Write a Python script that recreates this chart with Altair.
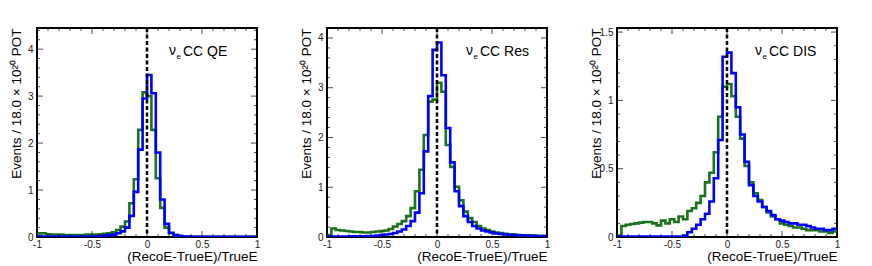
import altair as alt
import numpy as np
import pandas as pd

# ---------------- data ----------------
N_BINS = 50
X_LO, X_HI = -1.0, 1.0

qe_green = [0.08, 0.08, 0.06, 0.05, 0.05, 0.05, 0.04, 0.04, 0.04, 0.04,
            0.04, 0.05, 0.05, 0.05, 0.06, 0.07, 0.08, 0.10, 0.15, 0.22,
            0.33, 0.72, 1.23, 2.28, 3.08, 3.00, 2.28, 1.25, 0.62, 0.20,
            0.08, 0.04, 0.02, 0.01, 0.006, 0.005, 0.005, 0.004, 0.004, 0.004,
            0.003, 0.003, 0.003, 0.003, 0.003, 0.003, 0.003, 0.003, 0.003, 0.003]
qe_blue = [0.02, 0.01, 0.01, 0.01, 0.01, 0.01, 0.01, 0.01, 0.01, 0.01,
           0.01, 0.01, 0.012, 0.015, 0.02, 0.03, 0.04, 0.05, 0.08, 0.12,
           0.20, 0.45, 0.96, 1.86, 2.95, 3.45, 3.06, 1.80, 0.80, 0.28,
           0.09, 0.04, 0.02, 0.012, 0.008, 0.006, 0.006, 0.005, 0.005, 0.005,
           0.005, 0.005, 0.005, 0.005, 0.005, 0.005, 0.005, 0.005, 0.005, 0.005]

res_green = [0.04, 0.17, 0.14, 0.13, 0.12, 0.11, 0.10, 0.10, 0.09, 0.09,
             0.10, 0.11, 0.12, 0.13, 0.16, 0.21, 0.26, 0.32, 0.42, 0.58,
             0.92, 1.35, 2.05, 2.72, 2.76, 3.10, 2.92, 1.85, 1.41, 1.01,
             0.74, 0.51, 0.38, 0.30, 0.22, 0.17, 0.14, 0.11, 0.09, 0.08,
             0.065, 0.055, 0.05, 0.04, 0.035, 0.03, 0.03, 0.025, 0.02, 0.02]
res_blue = [0.01, 0.01, 0.01, 0.01, 0.01, 0.012, 0.012, 0.015, 0.015, 0.02,
            0.02, 0.03, 0.04, 0.05, 0.06, 0.08, 0.11, 0.15, 0.22, 0.32,
            0.49, 0.88, 1.72, 2.83, 3.76, 3.91, 3.25, 2.19, 1.50, 0.92,
            0.62, 0.42, 0.30, 0.22, 0.17, 0.13, 0.11, 0.09, 0.07, 0.06,
            0.05, 0.045, 0.04, 0.035, 0.03, 0.03, 0.025, 0.02, 0.02, 0.02]

dis_green = [0.01, 0.08, 0.09, 0.095, 0.10, 0.105, 0.11, 0.11, 0.10, 0.085,
             0.12, 0.10, 0.13, 0.11, 0.15, 0.13, 0.19, 0.21, 0.25, 0.30,
             0.40, 0.47, 0.62, 0.88, 1.10, 1.12, 1.03, 0.88, 0.72, 0.52,
             0.40, 0.32, 0.27, 0.22, 0.18, 0.15, 0.13, 0.10, 0.09, 0.08,
             0.07, 0.07, 0.06, 0.05, 0.05, 0.05, 0.04, 0.04, 0.03, 0.04]
dis_blue = [0.004, 0.004, 0.004, 0.004, 0.004, 0.004, 0.004, 0.004, 0.004, 0.004,
            0.004, 0.004, 0.004, 0.004, 0.004, 0.01, 0.035, 0.06, 0.09, 0.13,
            0.17, 0.26, 0.43, 0.71, 1.32, 1.35, 1.20, 0.95, 0.75, 0.55,
            0.38, 0.30, 0.26, 0.22, 0.19, 0.16, 0.13, 0.12, 0.11, 0.10,
            0.10, 0.09, 0.09, 0.08, 0.07, 0.06, 0.06, 0.05, 0.05, 0.06]

panel_labels = ["CC QE", "CC Res", "CC DIS"]
y_max = [4.45, 4.2, 1.53]
y_major = [[0, 1, 2, 3, 4], [0, 1, 2, 3, 4], [0, 0.5, 1, 1.5]]
y_minor_step = [0.2, 0.2, 0.1]
x_major = [-1, -0.5, 0, 0.5, 1]
x_minor_step = 0.1
vline_x = [0.0]

X_TITLE = "(RecoE-TrueE)/TrueE"
Y_TITLE = "Events / 18.0 \u00d7 10\u00b2\u2070 POT"

# ---------------- style ----------------
W, H = 220, 209
FONT = "Liberation Sans"
GREEN = "#1a731a"
BLUE = "#0000ff"
LW = 2.6
MAJ, MIN = 12, 6          # tick sizes (half is clipped -> inward ticks)
label_x = [132, 139, 138]

edges = np.linspace(X_LO, X_HI, N_BINS + 1)


def hist_df(vals):
    return pd.DataFrame({"x": edges, "val": list(vals) + [vals[-1]]})


def panel(i, green, blue):
    xs = alt.Scale(domain=[X_LO, X_HI], nice=False, zero=False)
    ys = alt.Scale(domain=[0, y_max[i]], nice=False, zero=False)

    xaxis = alt.Axis(values=x_major, labelExpr="toString(datum.value)",
                     title=X_TITLE, titleAnchor="end", titleY=23,
                     titleBaseline="alphabetic", titleFont=FONT,
                     titleFontSize=13.5, titleFontWeight="normal",
                     titleColor="black", labelFont=FONT, labelFontSize=10,
                     labelColor="#222", labelPadding=2, labelFlush=False,
                     labelOverlap=False, labelBound=False, ticks=False,
                     tickSize=0, domain=False, grid=False)
    yaxis = alt.Axis(values=y_major[i], labelExpr="toString(datum.value)",
                     title=Y_TITLE, titleAnchor="end", titleX=-16.5,
                     titleBaseline="alphabetic", titleFont=FONT,
                     titleFontSize=13.5, titleFontWeight="normal",
                     titleColor="black", labelFont=FONT, labelFontSize=10,
                     labelColor="#222", labelPadding=4, labelFlush=False,
                     labelOverlap=False, labelBound=False, ticks=False,
                     tickSize=0, domain=False, grid=False)

    X = lambda: alt.X("x:Q", scale=xs, axis=xaxis)
    Y = lambda: alt.Y("val:Q", scale=ys, axis=yaxis)

    g = alt.Chart(hist_df(green)).mark_line(
        interpolate="step-after", color=GREEN, strokeWidth=LW,
        strokeJoin="miter", strokeCap="butt", clip=True
    ).encode(x=X(), y=Y())
    b = alt.Chart(hist_df(blue)).mark_line(
        interpolate="step-after", color=BLUE, strokeWidth=LW,
        strokeJoin="miter", strokeCap="butt", clip=True
    ).encode(x=X(), y=Y())

    dash = alt.Chart(pd.DataFrame({"x": vline_x})).mark_rule(
        color="black", strokeWidth=2.5, strokeDash=[4, 2.5]
    ).encode(x=X(), y=alt.value(0), y2=alt.value(H))

    # tick marks
    ymin_vals = [v for v in np.arange(0, y_max[i] + 1e-9, y_minor_step[i])
                 if not any(abs(v - m) < 1e-6 for m in y_major[i])]
    yt = pd.DataFrame({"val": list(y_major[i]) + ymin_vals,
                       "size": [MAJ] * len(y_major[i]) + [MIN] * len(ymin_vals)})
    xmin_vals = [v for v in np.arange(X_LO, X_HI + 1e-9, x_minor_step)
                 if not any(abs(v - m) < 1e-6 for m in x_major)]
    xt = pd.DataFrame({"x": list(x_major) + xmin_vals,
                       "size": [MAJ] * len(x_major) + [MIN] * len(xmin_vals)})

    def ytick(px):
        return alt.Chart(yt).mark_tick(orient="horizontal", color="black",
                                       thickness=1, clip=True).encode(
            y=Y(), x=alt.value(px), size=alt.Size("size:Q", scale=None))

    def xtick(py):
        return alt.Chart(xt).mark_tick(orient="vertical", color="black",
                                       thickness=1, clip=True).encode(
            x=X(), y=alt.value(py), size=alt.Size("size:Q", scale=None))

    lx = label_x[i]
    nu = alt.Chart(pd.DataFrame({"t": ["\u03bd"]})).mark_text(
        align="left", baseline="middle", font=FONT, fontSize=14, color="black"
    ).encode(x=alt.value(lx), y=alt.value(23), text="t:N")
    sub = alt.Chart(pd.DataFrame({"t": ["e"]})).mark_text(
        align="left", baseline="middle", font=FONT, fontSize=8, color="black"
    ).encode(x=alt.value(lx + 7.5), y=alt.value(28.5), text="t:N")
    cc = alt.Chart(pd.DataFrame({"t": [panel_labels[i]]})).mark_text(
        align="left", baseline="middle", font=FONT, fontSize=14, color="black"
    ).encode(x=alt.value(lx + 14), y=alt.value(23.5), text="t:N")

    return alt.layer(g, b, ytick(0), ytick(W), xtick(H), xtick(0),
                     dash, nu, sub, cc).properties(width=W, height=H)


chart = alt.hconcat(
    panel(0, qe_green, qe_blue),
    panel(1, res_green, res_blue),
    panel(2, dis_green, dis_blue),
    spacing=70, bounds="flush"
).properties(
    padding={"left": 0, "top": 17, "right": 5, "bottom": 0}
).configure_view(stroke="black", strokeWidth=2)

chart.save("out.html", embed_options={"renderer": "svg", "actions": False})
